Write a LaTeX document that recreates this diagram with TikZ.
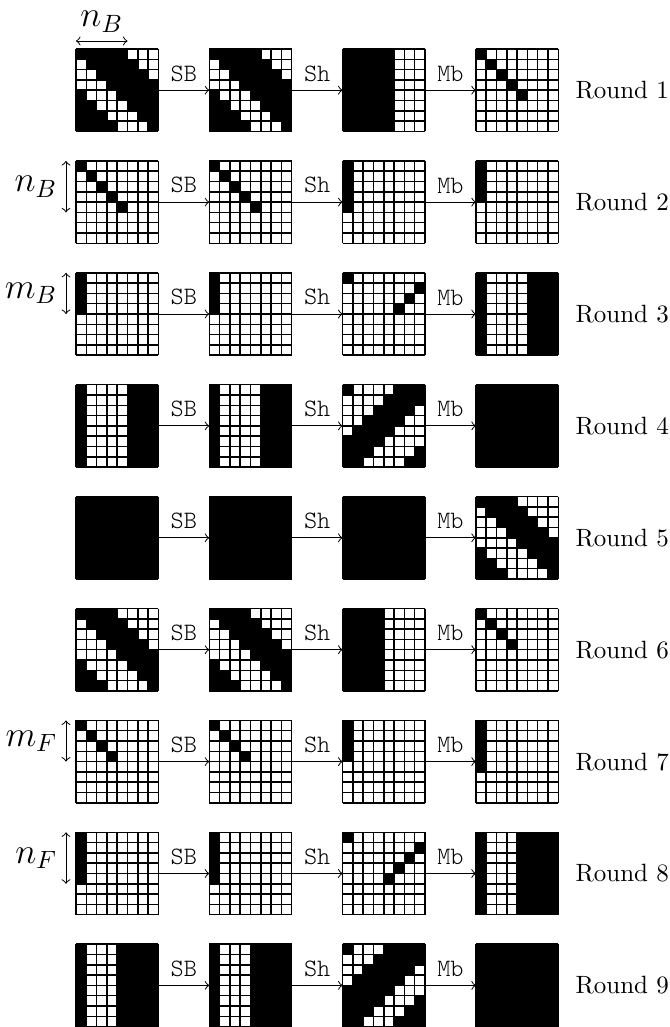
\documentclass[tikz,border=0pt]{standalone}
\usepackage{fontspec}
\setmonofont{Latin Modern Mono Light}
\usetikzlibrary{calc}
\tikzset{
  gnode/.style={minimum size=32.96pt, inner sep=0pt, outer sep=0pt},
  gridline/.style={line width=0.6pt},
  oparrow/.style={->},
  oplabel/.style={above, font=\ttfamily},
  roundlabel/.style={anchor=west, inner sep=0pt},
  dimarrow/.style={<->},
  dimlabel/.style={font=\Large},
}
\newcommand\gridat[4]{%
  \node[gnode] (#1) at (#2,#3) {};
  \begin{scope}[shift={(#1.north west)}, x=4.12pt, y=-4.12pt]
    \foreach \rr in {0,...,7}{\foreach \cc in {0,...,7}{%
      \pgfmathtruncatemacro\blk{#4}%
      \ifnum\blk>0 \fill (\cc,\rr) rectangle ++(1,1);\fi}}
    \foreach \ii in {0,...,8}{\draw[gridline] (\ii,0) -- (\ii,8) (0,\ii) -- (8,\ii);}
  \end{scope}}
\newcommand\roundrow[6]{%
  \gridat{g#1a}{117.2}{#2}{#3}
  \gridat{g#1b}{250.5}{#2}{#4}
  \gridat{g#1c}{383.8}{#2}{#5}
  \gridat{g#1d}{517.1}{#2}{#6}
  \draw[oparrow] (g#1a.east) -- node[oplabel] (sb#1) {SB} (g#1b.west);
  \draw[oparrow] (g#1b.east) -- node[oplabel] (sh#1) {Sh} (g#1c.west);
  \draw[oparrow] (g#1c.east) -- node[oplabel] (mb#1) {Mb} (g#1d.west);
  \node[roundlabel] (rl#1) at (575,#2) {Round #1};}
\begin{document}
\begin{tikzpicture}[x=0.4pt, y=-0.4pt]
\useasboundingbox (0,0) rectangle (669,1027);
\roundrow{1}{90.2}{mod(\cc-\rr+8,8)<5}{mod(\cc-\rr+8,8)<5}{\cc<5}{(\cc==\rr)*(\rr<5)}
\roundrow{2}{202.1}{(\cc==\rr)*(\rr<5)}{(\cc==\rr)*(\rr<5)}{(\cc==0)*(\rr<5)}{(\cc==0)*(\rr<4)}
\roundrow{3}{314.0}{(\cc==0)*(\rr<4)}{(\cc==0)*(\rr<4)}{(mod(\cc+\rr,8)==0)*(\rr<4)}{1-(\cc>0)*(\cc<5)}
\roundrow{4}{425.9}{1-(\cc>0)*(\cc<5)}{1-(\cc>0)*(\cc<5)}{1-(mod(\cc+\rr,8)>0)*(mod(\cc+\rr,8)<5)}{1}
\roundrow{5}{537.8}{1}{1}{1}{mod(\cc-\rr+8,8)<4}
\roundrow{6}{649.7}{mod(\cc-\rr+8,8)<4}{mod(\cc-\rr+8,8)<4}{\cc<4}{(\cc==\rr)*(\rr<4)}
\roundrow{7}{761.6}{(\cc==\rr)*(\rr<4)}{(\cc==\rr)*(\rr<4)}{(\cc==0)*(\rr<4)}{(\cc==0)*(\rr<5)}
\roundrow{8}{873.5}{(\cc==0)*(\rr<5)}{(\cc==0)*(\rr<5)}{(mod(\cc+\rr,8)==0)*(\rr<5)}{1-(\cc>0)*(\cc<4)}
\roundrow{9}{985.4}{1-(\cc>0)*(\cc<4)}{1-(\cc>0)*(\cc<4)}{1-(mod(\cc+\rr,8)>0)*(mod(\cc+\rr,8)<4)}{1}
% dimension arrows
\coordinate (nbL) at ($(g1a.north west)+(0,-8)$);
\coordinate (nbR) at ($(g1a.north west)+(51.5,-8)$);
\draw[dimarrow] (nbL) -- node[above, dimlabel] (nbtop) {$n_B$} (nbR);
\coordinate (nbT) at ($(g2a.north west)+(-10,0)$);
\coordinate (nbB) at ($(g2a.north west)+(-10,51.5)$);
\draw[dimarrow] (nbT) -- node[left, dimlabel] (nbleft) {$n_B$} (nbB);
\coordinate (mbT) at ($(g3a.north west)+(-10,0)$);
\coordinate (mbB) at ($(g3a.north west)+(-10,41.2)$);
\draw[dimarrow] (mbT) -- node[left, dimlabel] (mbleft) {$m_B$} (mbB);
\coordinate (mfT) at ($(g7a.north west)+(-10,0)$);
\coordinate (mfB) at ($(g7a.north west)+(-10,41.2)$);
\draw[dimarrow] (mfT) -- node[left, dimlabel] (mfleft) {$m_F$} (mfB);
\coordinate (nfT) at ($(g8a.north west)+(-10,0)$);
\coordinate (nfB) at ($(g8a.north west)+(-10,51.5)$);
\draw[dimarrow] (nfT) -- node[left, dimlabel] (nfleft) {$n_F$} (nfB);
\end{tikzpicture}
\end{document}
